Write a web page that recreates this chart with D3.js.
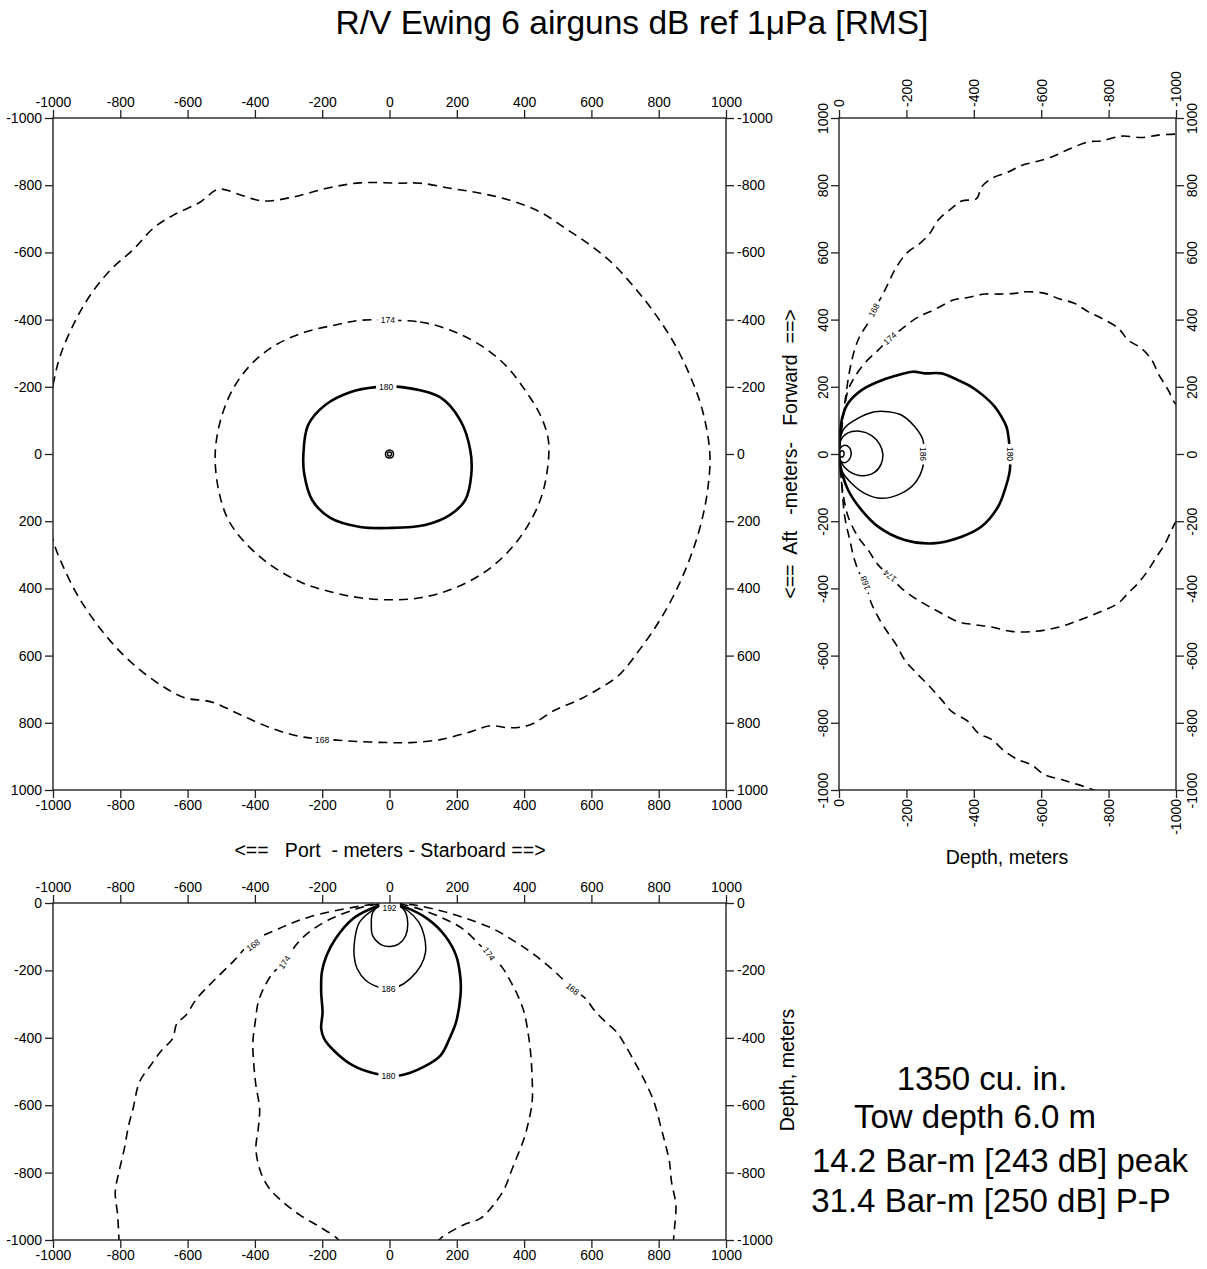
<!DOCTYPE html>
<html>
<head>
<meta charset="utf-8">
<script src="https://cdn.jsdelivr.net/npm/d3@7"></script>
<style>
  body { margin: 0; background: #fff; }
  svg text { font-family: "Liberation Sans", Arial, Helvetica, sans-serif; fill: #000; }
</style>
</head>
<body>
<svg id="chart" width="1207" height="1269"></svg>
<script>
"use strict";

// tick values
const planTicks = [-1000, -800, -600, -400, -200, 0, 200, 400, 600, 800, 1000];
const depthTicks = [0, -200, -400, -600, -800, -1000];
const alongTicks = [1000, 800, 600, 400, 200, 0, -200, -400, -600, -800, -1000];

// plan view contours [port/starboard, aft/forward] in meters
const plan168 = [[-1040, 30], [-1000, -205], [-978, -294], [-933, -398], [-889, -473], [-830, -547], [-760, -610], [-702, -672], [-642, -711], [-562, -750], [-508, -788], [-440, -770], [-375, -753], [-285, -765], [-186, -791], [-87, -807], [32, -806], [91, -806], [180, -791], [270, -776], [359, -755], [448, -720], [522, -672], [596, -622], [660, -570], [720, -505], [780, -430], [840, -340], [890, -240], [930, -130], [952, 0], [945, 110], [925, 210], [893, 310], [850, 410], [800, 500], [745, 580], [680, 660], [620, 700], [566, 730], [492, 762], [418, 806], [359, 815], [299, 809], [240, 827], [151, 850], [62, 859], [2, 859], [-87, 856], [-176, 850], [-265, 841], [-354, 815], [-443, 776], [-533, 737], [-607, 726], [-681, 687], [-770, 618], [-845, 538], [-919, 434], [-972, 330], [-1000, 256]];
const plan174 = [[0, -398], [91, -393], [180, -369], [270, -324], [344, -265], [403, -190], [448, -116], [472, -42], [469, 48], [448, 137], [403, 226], [344, 300], [270, 360], [180, 404], [91, 428], [2, 434], [-87, 428], [-176, 410], [-265, 381], [-354, 330], [-428, 265], [-479, 196], [-508, 107], [-518, 0], [-502, -101], [-467, -190], [-413, -265], [-339, -324], [-250, -363], [-161, -384], [-87, -398]];
const plan180 = [[37, -199], [150, -169], [210, -101], [240, -12], [243, 62], [225, 137], [180, 181], [106, 211], [2, 220], [-87, 217], [-176, 190], [-230, 137], [-253, 62], [-256, 3], [-242, -86], [-191, -146], [-117, -184], [-40, -199]];
const plan186 = [[0, -12], [9, -8], [12, 0], [9, 9], [0, 12], [-9, 9], [-12, 0], [-9, -8]];
const plan192 = [[0, -6], [5, -4], [6, 0], [4, 5], [0, 6], [-4, 5], [-6, 0], [-5, -4]];

// side view contours [depth, aft/forward] in meters
const side168 = [[-997, 952], [-947, 949], [-898, 942], [-839, 946], [-779, 932], [-740, 929], [-680, 906], [-631, 884], [-581, 869], [-542, 859], [-502, 839], [-453, 820], [-423, 795], [-408, 760], [-364, 753], [-334, 731], [-294, 696], [-269, 656], [-240, 627], [-200, 597], [-165, 547], [-146, 508], [-126, 468], [-104, 428], [-91, 398], [-61, 349], [-46, 309], [-32, 250], [-17, 151], [-8, 80], [-2, 20], [0, 0], [-2, -20], [-8, -90], [-17, -186], [-32, -256], [-46, -315], [-61, -355], [-78, -384], [-96, -444], [-121, -494], [-146, -533], [-170, -568], [-195, -613], [-230, -652], [-269, -692], [-304, -731], [-334, -766], [-383, -796], [-413, -831], [-453, -850], [-492, -885], [-532, -910], [-571, -925], [-611, -955], [-660, -969], [-710, -984], [-770, -1005]];
const side174 = [[-1010, 140], [-997, 151], [-977, 190], [-947, 240], [-928, 280], [-898, 314], [-858, 339], [-829, 374], [-779, 404], [-740, 423], [-700, 448], [-650, 463], [-611, 478], [-557, 483], [-522, 478], [-482, 476], [-433, 476], [-383, 466], [-339, 458], [-284, 430], [-235, 408], [-195, 379], [-151, 344], [-116, 309], [-76, 270], [-47, 230], [-27, 190], [-14, 120], [-5, 50], [0, 0], [-5, -60], [-14, -130], [-27, -186], [-56, -246], [-86, -285], [-116, -330], [-151, -363], [-185, -399], [-225, -429], [-264, -452], [-304, -474], [-353, -499], [-403, -508], [-453, -515], [-512, -528], [-581, -528], [-641, -518], [-690, -503], [-740, -484], [-789, -464], [-829, -444], [-858, -414], [-888, -384], [-918, -345], [-943, -305], [-968, -266], [-987, -226], [-997, -206], [-1010, -190]];
const side180 = [[0, 0], [-3, 60], [-10, 110], [-27, 151], [-67, 190], [-116, 215], [-165, 232], [-220, 245], [-254, 240], [-304, 240], [-353, 220], [-393, 200], [-433, 170], [-462, 141], [-482, 111], [-497, 81], [-504, 42], [-507, 0], [-507, -48], [-492, -107], [-472, -157], [-423, -216], [-364, -246], [-279, -266], [-195, -256], [-116, -216], [-67, -167], [-27, -107], [-7, -48]];
const side186 = [[0, 0], [-12, 71], [-47, 101], [-106, 126], [-146, 126], [-185, 116], [-225, 81], [-249, 42], [-251, 0], [-249, -38], [-225, -87], [-185, -117], [-126, -132], [-76, -117], [-37, -87], [-7, -48]];
const side192 = [[0, 0], [-5, 40], [-25, 62], [-62, 68], [-97, 55], [-120, 30], [-130, 0], [-125, -30], [-105, -55], [-70, -65], [-30, -52], [-8, -28]];
const side198 = [[0, 0], [-4, 18], [-16, 26], [-30, 20], [-36, 5], [-33, -12], [-22, -24], [-9, -24]];
const side204 = [[-2, 0], [-6, 9], [-13, 8], [-15, 0], [-12, -8], [-5, -8]];

// section contours [port/starboard, depth] in meters
const sec168 = [[-804, -1010], [-804, -1000], [-808, -926], [-815, -857], [-804, -798], [-788, -729], [-775, -659], [-762, -610], [-743, -531], [-710, -482], [-677, -437], [-645, -403], [-632, -358], [-606, -334], [-573, -284], [-527, -235], [-462, -171], [-410, -116], [-331, -77], [-240, -42], [-109, -13], [-30, -2], [0, 0], [30, -2], [74, -6], [152, -23], [231, -47], [309, -77], [361, -107], [413, -141], [453, -171], [498, -210], [544, -255], [583, -284], [609, -319], [642, -353], [675, -383], [701, -423], [734, -482], [760, -531], [786, -590], [805, -659], [818, -709], [832, -768], [838, -827], [851, -896], [847, -965], [844, -1000], [844, -1010]];
const sec174 = [[-151, -1010], [-151, -1000], [-201, -965], [-266, -926], [-318, -886], [-357, -847], [-383, -798], [-397, -729], [-390, -669], [-386, -610], [-397, -541], [-403, -482], [-406, -413], [-399, -353], [-390, -294], [-370, -245], [-344, -205], [-312, -176], [-279, -126], [-240, -87], [-174, -47], [-83, -13], [-25, -2], [0, 0], [25, -2], [74, -13], [152, -42], [218, -77], [270, -126], [296, -151], [335, -191], [361, -235], [381, -274], [400, -324], [413, -393], [420, -452], [424, -521], [424, -590], [413, -650], [400, -699], [381, -748], [361, -798], [342, -847], [309, -896], [270, -936], [218, -956], [152, -995], [140, -1010]];
const sec180 = [[0, 0], [-57, -18], [-109, -47], [-161, -107], [-187, -156], [-201, -205], [-203, -265], [-199, -324], [-203, -373], [-194, -403], [-161, -442], [-109, -482], [-44, -506], [-3, -511], [35, -511], [100, -487], [152, -452], [178, -403], [198, -353], [211, -274], [211, -225], [198, -156], [165, -97], [113, -47], [48, -13]];
const sec186 = [[0, 0], [-40, -15], [-89, -57], [-103, -107], [-105, -156], [-96, -195], [-70, -230], [-31, -250], [-3, -254], [22, -250], [61, -225], [93, -186], [107, -146], [103, -97], [87, -57], [54, -23]];
const sec192 = [[0, 0], [-30, -8], [-50, -28], [-54, -67], [-50, -97], [-24, -124], [2, -129], [28, -121], [48, -97], [54, -57], [45, -23], [20, -5]];

// contour labels [text, x, y, angle]
const planLabels = [["174", -5, -398, 0], ["180", -10, -199, 0], ["168", -200, 852, 0]];
const sideLabels = [["168", -104, 428, -62], ["174", -151, 344, -42], ["186", -250, 0, 90], ["180", -507, 0, 90], ["174", -151, -363, 220], ["168", -78, -384, 250]];
const secLabels = [["192", 0, -15, 0], ["186", -3, -254, 0], ["180", -3, -512, 0], ["168", -405, -125, -35], ["174", -312, -176, -55], ["174", 296, -151, 55], ["168", 544, -255, 38]];

// notes
const notes = ["1350 cu. in.", "Tow depth 6.0 m", "14.2 Bar-m [243 dB] peak", "31.4 Bar-m [250 dB] P-P"];



const svg = d3.select("#chart");
const fmt = d => String(d);


// panel with scales, clip and frame
function panel(name, xDomain, xRange, yDomain, yRange) {
    let p = {
        name: name,
        x: d3.scaleLinear().domain(xDomain).range(xRange),
        y: d3.scaleLinear().domain(yDomain).range(yRange),
        g: svg.append("g").attr("class", name)
    };
    svg.append("clipPath")
    .attr("id", "clip-" + name)
    .append("rect")
    .attr("x", xRange[0])
    .attr("y", yRange[0])
    .attr("width", xRange[1] - xRange[0])
    .attr("height", yRange[1] - yRange[0]);
    return p;
}


// four axes around a panel
function axes(p, xTicks, yTicks, rotated) {
    const [x0, x1] = p.x.range(), [y0, y1] = p.y.range();
    let list = [
        ["top", d3.axisTop(p.x).tickValues(xTicks), `translate(0,${y0})`],
        ["bottom", d3.axisBottom(p.x).tickValues(xTicks), `translate(0,${y1})`],
        ["left", d3.axisLeft(p.y).tickValues(yTicks), `translate(${x0},0)`],
        ["right", d3.axisRight(p.y).tickValues(yTicks), `translate(${x1},0)`]
    ];
    list.forEach(([side, axis, tr]) => {
        let a = p.g.append("g")
        .attr("class", "axis " + side)
        .attr("transform", tr)
        .call(axis.tickFormat(fmt).tickSize(8).tickPadding(3).tickSizeOuter(0));
        a.select(".domain").remove();
        a.selectAll("line").attr("stroke", "#222").attr("stroke-width", 1.3);
        a.selectAll("text")
        .attr("font-family", "'Liberation Sans', Arial, sans-serif")
        .attr("font-size", 14)
        .attr("fill", "#000");
        if (!rotated) {
            if (side == "bottom") a.selectAll("text").attr("y", 10);
            return;
        }
        let t = a.selectAll("text").attr("transform", "rotate(-90)");
        if (side == "top") t.attr("x", 11).attr("y", 0).attr("dy", "0.35em").attr("text-anchor", "start");
        if (side == "bottom") t.attr("x", -9).attr("y", 0).attr("dy", "0.35em").attr("text-anchor", "end");
        if (side == "left") t.attr("x", 0).attr("y", -11).attr("dy", "0").attr("text-anchor", "middle");
        if (side == "right") t.attr("x", 0).attr("y", 11).attr("dy", "0.71em").attr("text-anchor", "middle");
    });
    p.g.append("rect")
    .attr("x", x0)
    .attr("y", y0)
    .attr("width", x1 - x0)
    .attr("height", y1 - y0)
    .attr("fill", "none")
    .attr("stroke", "#222")
    .attr("stroke-width", 1.4);
}


// one contour line
function contour(p, pts, kind, closed) {
    let line = d3.line()
    .x(d => p.x(d[0]))
    .y(d => p.y(d[1]))
    .curve(closed ? d3.curveCatmullRomClosed.alpha(0.5) : d3.curveCatmullRom.alpha(0.5));
    let path = p.g.append("path")
    .datum(pts)
    .attr("d", line)
    .attr("clip-path", `url(#clip-${p.name})`)
    .attr("fill", "none")
    .attr("stroke", "#000")
    .attr("stroke-linejoin", "round");
    if (kind == "dash") path.attr("stroke-width", 1.6).attr("stroke-dasharray", "9,6");
    if (kind == "thick") path.attr("stroke-width", 2.6);
    if (kind == "thin") path.attr("stroke-width", 1.5);
}


// contour value labels
function labels(p, list) {
    list.forEach(([txt, x, y, angle]) => {
        let g = p.g.append("g")
        .attr("transform", `translate(${p.x(x)},${p.y(y)}) rotate(${angle})`);
        let t = g.append("text")
        .text(txt)
        .attr("text-anchor", "middle")
        .attr("dy", "0.35em")
        .attr("font-size", 8.5);
        let b = t.node().getBBox();
        g.insert("rect", "text")
        .attr("x", b.x - 3)
        .attr("y", b.y - 1)
        .attr("width", b.width + 6)
        .attr("height", b.height + 2)
        .attr("fill", "#fff");
    });
}



// title
svg.append("text")
.attr("x", 632)
.attr("y", 34)
.attr("text-anchor", "middle")
.attr("font-size", 33.5)
.text("R/V Ewing 6 airguns dB ref 1\u03bcPa [RMS]");



// plan view
let plan = panel("plan", [-1000, 1000], [53, 726], [-1000, 1000], [118, 790]);
contour(plan, plan168, "dash", true);
contour(plan, plan174, "dash", true);
contour(plan, plan180, "thick", true);
contour(plan, plan186, "thin", true);
contour(plan, plan192, "thin", true);
labels(plan, planLabels);
axes(plan, planTicks, planTicks, false);

svg.append("text")
.attr("x", 390)
.attr("y", 857)
.attr("text-anchor", "middle")
.attr("font-size", 19.5)
.style("white-space", "pre")
.text("<==   Port  - meters - Starboard ==>");



// side view
let side = panel("side", [0, -1000], [839, 1176], [1000, -1000], [118, 790]);
contour(side, side168, "dash", false);
contour(side, side174, "dash", false);
contour(side, side180, "thick", true);
contour(side, side186, "thin", true);
contour(side, side192, "thin", true);
contour(side, side198, "thin", true);
contour(side, side204, "thin", true);
labels(side, sideLabels);
axes(side, depthTicks, alongTicks, true);

svg.append("text")
.attr("transform", "translate(797,454) rotate(-90)")
.attr("text-anchor", "middle")
.attr("font-size", 19.5)
.style("white-space", "pre")
.text("<==  Aft   -meters-   Forward  ==>");

svg.append("text")
.attr("x", 1007)
.attr("y", 864)
.attr("text-anchor", "middle")
.attr("font-size", 19.5)
.text("Depth, meters");



// section view
let sec = panel("sec", [-1000, 1000], [53, 726], [0, -1000], [903, 1240]);
contour(sec, sec168, "dash", false);
contour(sec, sec174, "dash", false);
contour(sec, sec180, "thick", true);
contour(sec, sec186, "thin", true);
contour(sec, sec192, "thin", true);
labels(sec, secLabels);
axes(sec, planTicks, depthTicks, false);

svg.append("text")
.attr("transform", "translate(794,1070) rotate(-90)")
.attr("text-anchor", "middle")
.attr("font-size", 19.5)
.text("Depth, meters");



// notes
const noteX = [982, 975, 1000, 991], noteY = [1090, 1128, 1172, 1212];
notes.forEach((n, i) => {
    svg.append("text")
    .attr("x", noteX[i])
    .attr("y", noteY[i])
    .attr("text-anchor", "middle")
    .attr("font-size", 33)
    .text(n);
});
</script>
</body>
</html>
